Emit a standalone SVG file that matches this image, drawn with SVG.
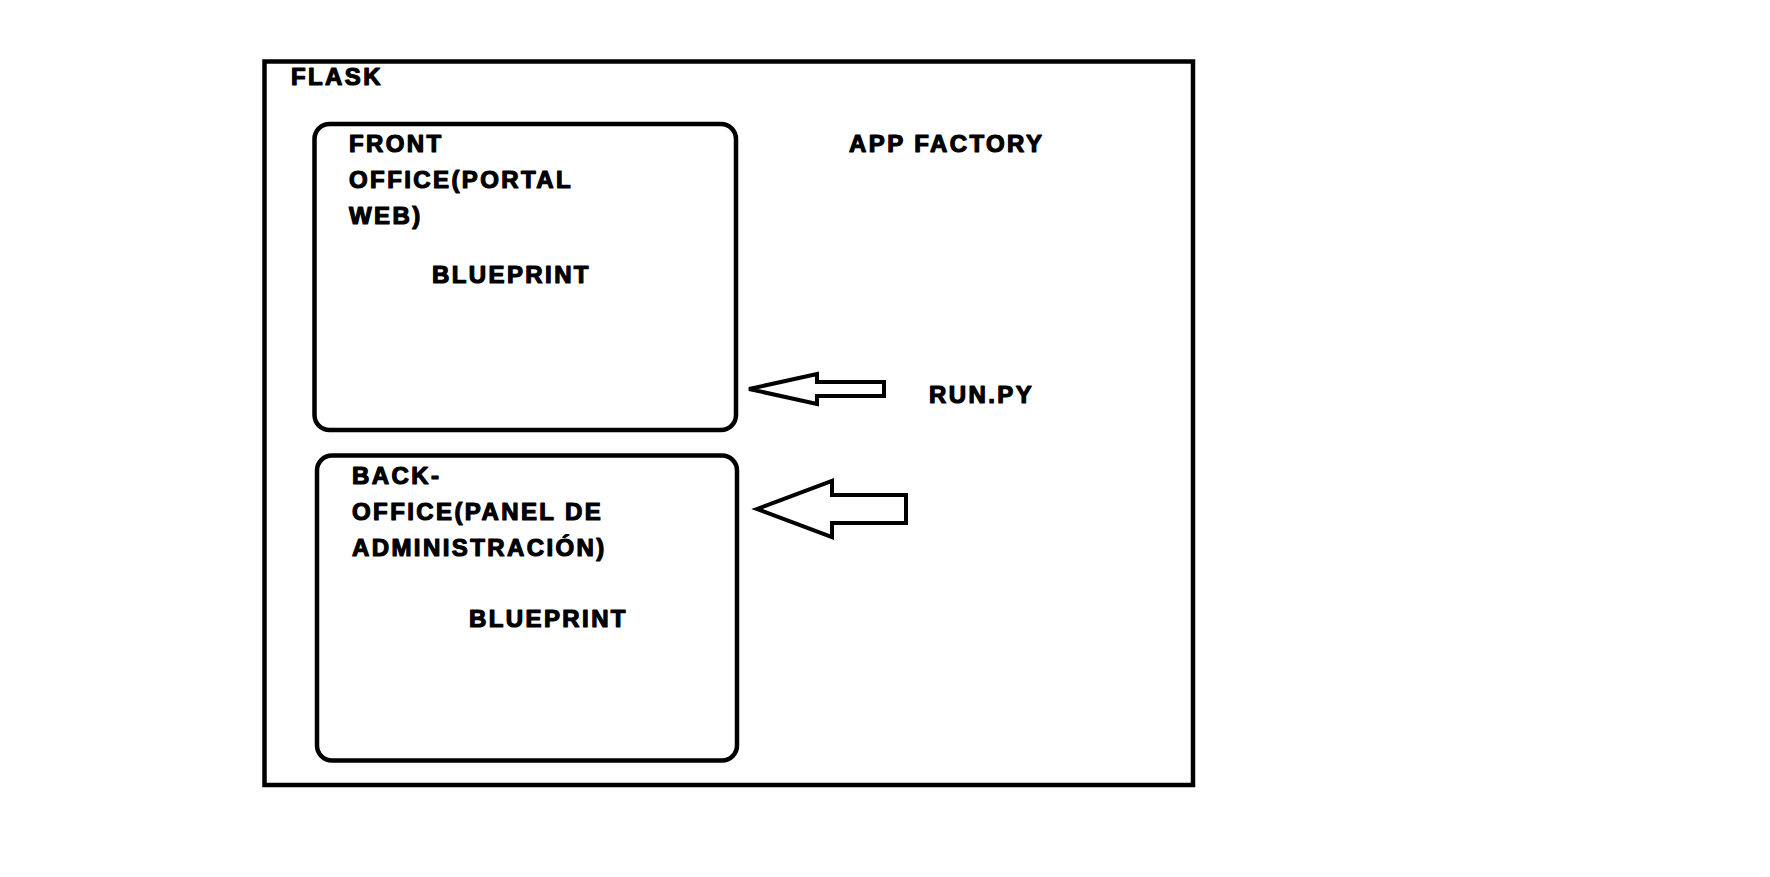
<svg xmlns="http://www.w3.org/2000/svg" width="1770" height="877" viewBox="0 0 1770 877">
<style>
  .box{fill:none;stroke:#000;stroke-width:4.5}
  .t{font-family:"Liberation Sans",Arial,sans-serif;font-weight:bold;font-size:24px;letter-spacing:2.4px;fill:#000;stroke:#000;stroke-width:1.2;stroke-linejoin:round}
  .arrow{fill:#fff;stroke:#000;stroke-width:4;stroke-linejoin:miter}
</style>
<rect width="1770" height="877" fill="#fff"/>
<g id="flask">
  <rect class="box" x="264.5" y="61.5" width="928.5" height="723.5"/>
  <text class="t" x="291" y="85">FLASK</text>
  <text class="t" x="849" y="152">APP FACTORY</text>
  <text class="t" x="929" y="403">RUN.PY</text>
</g>
<g id="front-office">
  <rect class="box" x="314.5" y="124" width="421.5" height="306" rx="15" ry="15"/>
  <text class="t" x="349" y="152">FRONT</text>
  <text class="t" x="349" y="188">OFFICE(PORTAL</text>
  <text class="t" x="349" y="224">WEB)</text>
  <text class="t" x="432" y="283">BLUEPRINT</text>
</g>
<g id="back-office">
  <rect class="box" x="317" y="455.5" width="420" height="305" rx="15" ry="15"/>
  <text class="t" x="352" y="484">BACK-</text>
  <text class="t" x="352" y="520">OFFICE(PANEL DE</text>
  <text class="t" x="352" y="556">ADMINISTRACIÓN)</text>
  <text class="t" x="469" y="627">BLUEPRINT</text>
</g>
<g id="connectors">
  <path class="arrow" d="M749,389 L817,374 L817,382 L884,382 L884,396 L817,396 L817,404 Z"/>
  <path class="arrow" d="M757,509 L832,481 L832,495 L906,495 L906,523 L832,523 L832,537 Z"/>
</g>
</svg>
